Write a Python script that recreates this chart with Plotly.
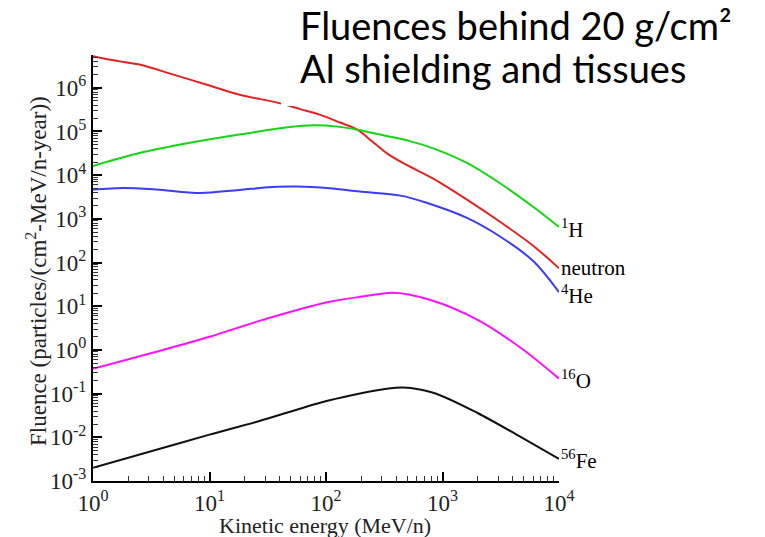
import numpy as np
import plotly.graph_objects as go

# ---- data ----
e_neutron = [1, 1.41, 1.82, 2.51, 4.9, 9.5, 18.2, 38, 60, 89, 132, 186, 251, 331, 457, 832, 1620, 3090, 6030, 10000]
f_neutron = [5.25e6, 4.37e6, 3.89e6, 3.39e6, 2.0e6, 1.17e6, 6.9e5, 4.57e5, 3.24e5, 2.4e5, 1.6e5, 1.1e5,
             5.8e4, 3.2e4, 1.9e4, 8.3e3, 2.75e3, 870, 240, 74]

e_h1 = [1, 2.5, 6.8, 18, 49, 78, 126, 186, 316, 525, 832, 1620, 3090, 6030, 10000]
f_h1 = [1.62e4, 3.2e4, 5.5e4, 8.5e4, 1.26e5, 1.38e5, 1.29e5, 1.1e5, 8.1e4, 6.0e4, 4.1e4, 1.9e4, 6.6e3, 1.86e3, 650]

e_he4 = [1, 1.82, 3.5, 8.3, 18, 38, 56, 107, 195, 437, 741, 1620, 3090, 6030, 10000]
f_he4 = [4.7e3, 5.1e3, 4.7e3, 3.9e3, 4.6e3, 5.4e3, 5.5e3, 5.0e3, 4.2e3, 3.4e3, 2.3e3, 1.05e3, 400, 107, 21]

e_o16 = [1, 3.5, 10, 26, 107, 204, 380, 776, 2000, 4680, 10000]
f_o16 = [0.37, 0.91, 2.0, 4.5, 12.6, 16.6, 20.4, 14.1, 4.9, 1.12, 0.22]

e_fe56 = [1, 3.5, 10, 26, 89, 170, 331, 457, 832, 2000, 4680, 10000]
f_fe56 = [2.0e-3, 5.2e-3, 1.15e-2, 2.3e-2, 6.2e-2, 9.3e-2, 0.129, 0.138, 0.105, 0.036, 0.0102, 3.2e-3]

series = [
    ("neutron", e_neutron, f_neutron, "#e02424", "neutron", 0),
    ("1H", e_h1, f_h1, "#16d416", "<sup>1</sup>H", -1),
    ("4He", e_he4, f_he4, "#3c3cf5", "<sup>4</sup>He", -2),
    ("16O", e_o16, f_o16, "#ff10ff", "<sup>16</sup>O", -1),
    ("56Fe", e_fe56, f_fe56, "#111111", "<sup>56</sup>Fe", -1),
]

x_tickvals = [1, 10, 100, 1000, 10000]
x_ticktext = ["10<sup>0</sup>", "10<sup>1</sup>", "10<sup>2</sup>", "10<sup>3</sup>", "10<sup>4</sup>"]
y_tickvals = [1e-3, 1e-2, 1e-1, 1, 10, 100, 1e3, 1e4, 1e5, 1e6]
y_ticktext = ["10<sup>-3</sup>", "10<sup>-2</sup>", "10<sup>-1</sup>", "10<sup>0</sup>", "10<sup>1</sup>",
              "10<sup>2</sup>", "10<sup>3</sup>", "10<sup>4</sup>", "10<sup>5</sup>", "10<sup>6</sup>"]

x_minor = [k * 10 ** d for d in range(0, 4) for k in range(2, 10)]
y_minor = [k * 10.0 ** d for d in range(-3, 7) for k in range(2, 10)]

W, H = 765, 537
L, R, T, B = 93, 206, 55, 56
SERIF = "Liberation Serif, Times New Roman, serif"

fig = go.Figure()
for name, e, f, col, lab, ys in series:
    fig.add_trace(go.Scatter(x=e, y=f, mode="lines", name=name,
                             line=dict(color=col, width=2, shape="spline", smoothing=0.9),
                             showlegend=False, cliponaxis=False))
    fig.add_annotation(x=np.log10(e[-1]), y=np.log10(f[-1]), xref="x", yref="y",
                       text=lab, showarrow=False, xanchor="left", yanchor="middle",
                       xshift=0, yshift=ys,
                       font=dict(family=SERIF, size=21, color="black"))

fig.update_xaxes(type="log", range=[0, 4], tickmode="array", tickvals=x_tickvals, ticktext=x_ticktext,
                 ticks="inside", ticklen=9, tickwidth=2, tickcolor="black",
                 showline=True, linecolor="black", linewidth=2, showgrid=False, zeroline=False,
                 tickfont=dict(family=SERIF, size=23, color="#222"),
                 minor=dict(tickmode="array", tickvals=x_minor, ticks="inside", ticklen=5,
                            tickwidth=1, tickcolor="#333", showgrid=False))
fig.update_yaxes(type="log", range=[-3, 6.75], tickmode="array", tickvals=y_tickvals, ticktext=y_ticktext,
                 ticks="inside", ticklen=9, tickwidth=2, tickcolor="black",
                 showline=True, linecolor="black", linewidth=2, showgrid=False, zeroline=False,
                 tickfont=dict(family=SERIF, size=23, color="#222"),
                 minor=dict(tickmode="array", tickvals=y_minor, ticks="inside", ticklen=5,
                            tickwidth=1, tickcolor="#333", showgrid=False))

pw, ph = W - L - R, H - T - B
def px_x(p):
    return (p - L) / pw
def px_y(p):
    return (H - B - p) / ph

# white text box of the overlaid title (hides part of the neutron curve)
fig.add_shape(type="rect", xref="paper", yref="paper", x0=px_x(281), x1=px_x(770),
              y0=px_y(106), y1=px_y(-5), fillcolor="white", line=dict(width=0), layer="above")

fig.add_annotation(xref="paper", yref="paper", x=px_x(298), y=px_y(25), xanchor="left", yanchor="middle",
                   text="Fluences behind 20 g/cm²", showarrow=False,
                   font=dict(family="Lato, sans-serif", size=38, color="black"))
fig.add_annotation(xref="paper", yref="paper", x=px_x(298), y=px_y(68), xanchor="left", yanchor="middle",
                   text="Al shielding and tissues", showarrow=False,
                   font=dict(family="Lato, sans-serif", size=38, color="black"))

# axis titles
fig.add_annotation(xref="paper", yref="paper", x=px_x(325), y=px_y(525), xanchor="center", yanchor="middle",
                   text="Kinetic energy (MeV/n)", showarrow=False,
                   font=dict(family=SERIF, size=22, color="#222"))
fig.add_annotation(xref="paper", yref="paper", x=px_x(36), y=px_y(271), xanchor="center", yanchor="middle",
                   text="Fluence (particles/(cm<sup>2</sup>-MeV/n-year))", textangle=-90, showarrow=False,
                   font=dict(family=SERIF, size=23, color="#222"))

fig.update_layout(width=W, height=H, margin=dict(l=L, r=R, t=T, b=B),
                  plot_bgcolor="white", paper_bgcolor="white")

fig.write_html("out.html")
